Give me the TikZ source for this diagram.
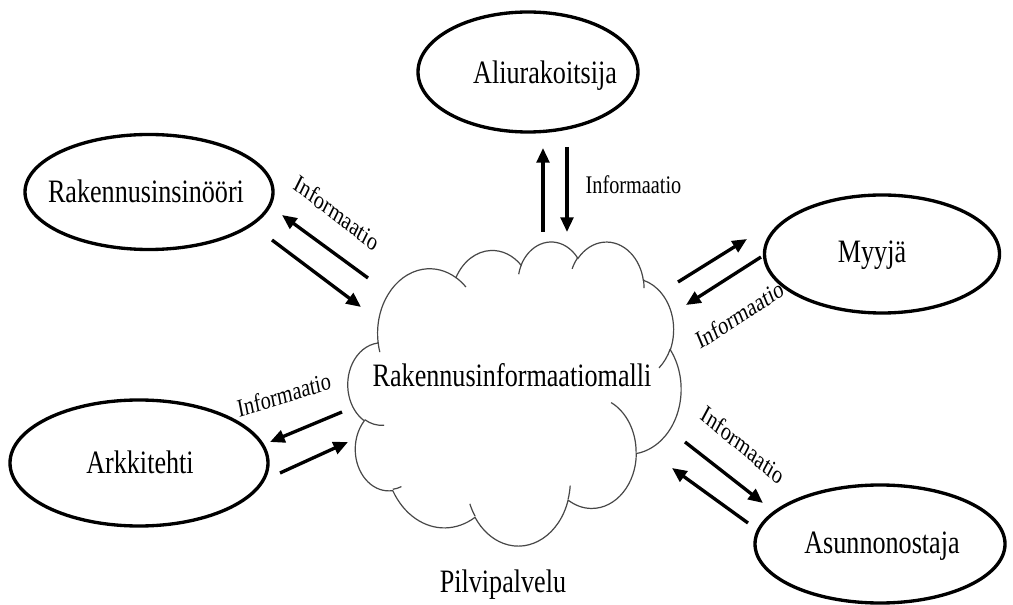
\documentclass[tikz,border=0pt]{standalone}
\usepackage{fontspec}
\setmainfont{Liberation Serif}
\usetikzlibrary{shapes.geometric,arrows.meta}
% convert OOXML visual arc angles to parametric TikZ angles
\newcommand\cldcalc[5]{%
  \pgfmathsetmacro\cldS{atan2((#2)*sin(#4),(#3)*cos(#4))}%
  \pgfmathsetmacro\cldE{atan2((#2)*sin(#4+#5),(#3)*cos(#4+#5))}%
  \pgfmathsetmacro\cldD{\cldE-\cldS}%
  \pgfmathsetmacro\cldD{(#5>0)*(\cldD<0)*360-(#5<0)*(\cldD>0)*360+\cldD}%
  \expandafter\edef\csname cldS#1\endcsname{\cldS}%
  \expandafter\edef\csname cldD#1\endcsname{\cldD}%
  \expandafter\edef\csname cldX#1\endcsname{#2}%
  \expandafter\edef\csname cldY#1\endcsname{#3}%
}
\newcommand\sqlabel[5]{%
  \begin{scope}[shift={#2},xscale=0.8]
    \node[#4,transform shape,rotate=#3] (#1) at (0,0) {#5};
  \end{scope}}
\begin{document}
\begin{tikzpicture}[x=0.75pt,y=-0.75pt,
  ell/.style={draw=black,line width=2.5pt,ellipse,inner sep=0pt},
  biglbl/.style={font=\fontsize{24.5}{28}\selectfont,inner sep=0pt,text height=16pt,text depth=0pt},
  infolbl/.style={font=\fontsize{19}{22}\selectfont,inner sep=0pt,text height=12.5pt,text depth=0pt},
  arr/.style={line width=2.5pt,-{Triangle[length=11pt,width=9.5pt]}},
  cloudline/.style={draw=black!72,line width=0.9pt}]
\useasboundingbox (0,0) rectangle (1013,605);
\fill[white] (0,0) rectangle (1013,605);
% cloud arcs
\cldcalc{a}{6.753}{9.190}{-190.4875}{123.7805}
\cldcalc{b}{5.333}{7.267}{-144.1024}{89.9452}
\cldcalc{c}{4.365}{5.945}{-145.8079}{99.7230}
\cldcalc{d}{4.857}{6.595}{-130.9861}{117.2417}
\cldcalc{e}{5.333}{7.273}{-78.7089}{109.0269}
\cldcalc{f}{6.775}{9.220}{-46.2673}{130.2690}
\cldcalc{g}{5.785}{7.867}{0.6250}{114.0333}
\cldcalc{h}{6.752}{9.215}{22.4516}{115.1726}
\cldcalc{i}{7.720}{10.543}{66.2426}{75.7110}
\cldcalc{j}{4.360}{5.918}{-274.9421}{146.7356}
\cldcalc{k}{4.345}{5.945}{-246.8285}{152.5189}
\cldcalc{l}{4.345}{5.945}{86.7420}{26.4295}
\cldcalc{m}{4.360}{5.918}{73.6105}{11.4475}
\cldcalc{n}{6.752}{9.215}{137.6242}{14.0811}
\cldcalc{o}{6.752}{9.215}{6.4533}{15.9984}
\cldcalc{p}{5.785}{7.867}{-70.2924}{70.9174}
\cldcalc{q}{5.333}{7.273}{30.3180}{27.7515}
\cldcalc{r}{4.857}{6.595}{-13.7443}{14.8589}
\cldcalc{s}{4.857}{6.595}{-149.1815}{18.1954}
\cldcalc{t}{4.365}{5.945}{-163.4943}{17.6864}
\cldcalc{u}{6.753}{9.190}{-66.7070}{12.3194}
\cldcalc{v}{6.753}{9.190}{157.6544}{11.8582}
\begin{scope}[shift={(348,241)},x=5.781pt,y=-5.278pt]
  \draw[cloudline,fill=white] (3.900,14.370)
    arc[start angle=\cldSa,delta angle=\cldDa,x radius=\cldXa,y radius=\cldYa]
    arc[start angle=\cldSb,delta angle=\cldDb,x radius=\cldXb,y radius=\cldYb]
    arc[start angle=\cldSc,delta angle=\cldDc,x radius=\cldXc,y radius=\cldYc]
    arc[start angle=\cldSd,delta angle=\cldDd,x radius=\cldXd,y radius=\cldYd]
    arc[start angle=\cldSe,delta angle=\cldDe,x radius=\cldXe,y radius=\cldYe]
    arc[start angle=\cldSf,delta angle=\cldDf,x radius=\cldXf,y radius=\cldYf]
    arc[start angle=\cldSg,delta angle=\cldDg,x radius=\cldXg,y radius=\cldYg]
    arc[start angle=\cldSh,delta angle=\cldDh,x radius=\cldXh,y radius=\cldYh]
    arc[start angle=\cldSi,delta angle=\cldDi,x radius=\cldXi,y radius=\cldYi]
    arc[start angle=\cldSj,delta angle=\cldDj,x radius=\cldXj,y radius=\cldYj]
    arc[start angle=\cldSk,delta angle=\cldDk,x radius=\cldXk,y radius=\cldYk]
    -- cycle;
  \draw[cloudline]
    (4.693,26.177) arc[start angle=\cldSl,delta angle=\cldDl,x radius=\cldXl,y radius=\cldYl]
    (6.928,34.899) arc[start angle=\cldSm,delta angle=\cldDm,x radius=\cldXm,y radius=\cldYm]
    (16.478,39.090) arc[start angle=\cldSn,delta angle=\cldDn,x radius=\cldXn,y radius=\cldYn]
    (28.827,34.751) arc[start angle=\cldSo,delta angle=\cldDo,x radius=\cldXo,y radius=\cldYo]
    (34.129,22.954) arc[start angle=\cldSp,delta angle=\cldDp,x radius=\cldXp,y radius=\cldYp]
    (41.798,15.354) arc[start angle=\cldSq,delta angle=\cldDq,x radius=\cldXq,y radius=\cldYq]
    (38.324,5.426) arc[start angle=\cldSr,delta angle=\cldDr,x radius=\cldXr,y radius=\cldYr]
    (29.078,3.952) arc[start angle=\cldSs,delta angle=\cldDs,x radius=\cldXs,y radius=\cldYs]
    (22.141,4.720) arc[start angle=\cldSt,delta angle=\cldDt,x radius=\cldXt,y radius=\cldYt]
    (14.000,5.192) arc[start angle=\cldSu,delta angle=\cldDu,x radius=\cldXu,y radius=\cldYu]
    (4.127,15.789) arc[start angle=\cldSv,delta angle=\cldDv,x radius=\cldXv,y radius=\cldYv];
\end{scope}
% ellipses
\node[ell,minimum width=165pt,minimum height=90pt] (ali) at (528,72) {};
\node[ell,minimum width=186pt,minimum height=86.25pt] (rak) at (149,192) {};
\node[ell,minimum width=176.25pt,minimum height=88.5pt] (myy) at (882,254) {};
\node[ell,minimum width=193.5pt,minimum height=94.5pt] (ark) at (139,463) {};
\node[ell,minimum width=187.5pt,minimum height=88.5pt] (asu) at (880,544) {};
% labels
\sqlabel{tali}{(545,72.5)}{0}{biglbl}{Aliurakoitsija}
\sqlabel{trak}{(146,192)}{0}{biglbl}{Rakennusinsinööri}
\sqlabel{tmyy}{(872,252)}{0}{biglbl}{Myyjä}
\sqlabel{tark}{(140,463)}{0}{biglbl}{Arkkitehti}
\sqlabel{tasu}{(882,543)}{0}{biglbl}{Asunnonostaja}
\sqlabel{tbim}{(512,376)}{0}{biglbl}{Rakennusinformaatiomalli}
\sqlabel{tpil}{(503,582)}{0}{biglbl}{Pilvipalvelu}
\sqlabel{i1}{(337,213)}{-32}{infolbl}{Informaatio}
\sqlabel{i2}{(633.5,185)}{0}{infolbl}{Informaatio}
\sqlabel{i3}{(740,315)}{27.5}{infolbl}{Informaatio}
\sqlabel{i4}{(284,395)}{13.7}{infolbl}{Informaatio}
\sqlabel{i5}{(743,445)}{-33.9}{infolbl}{Informaatio}
% arrow end points
\coordinate (r1s) at (368,278); \coordinate (r1e) at (282,215);
\coordinate (r2s) at (272,240); \coordinate (r2e) at (361,307);
\coordinate (a1s) at (543,232); \coordinate (a1e) at (543,148);
\coordinate (a2s) at (567,147); \coordinate (a2e) at (567,232);
\coordinate (m1s) at (678,282); \coordinate (m1e) at (747,239);
\coordinate (m2s) at (761,257); \coordinate (m2e) at (686,305);
\coordinate (k1s) at (342,412); \coordinate (k1e) at (270,442);
\coordinate (k2s) at (280,473); \coordinate (k2e) at (348,442);
\coordinate (s1s) at (685,442); \coordinate (s1e) at (763,503);
\coordinate (s2s) at (748,523); \coordinate (s2e) at (672,468);
\foreach \p in {r1,r2,a1,a2,m1,m2,k1,k2,s1,s2}
  \draw[arr] (\p s) -- (\p e);
\end{tikzpicture}
\end{document}
